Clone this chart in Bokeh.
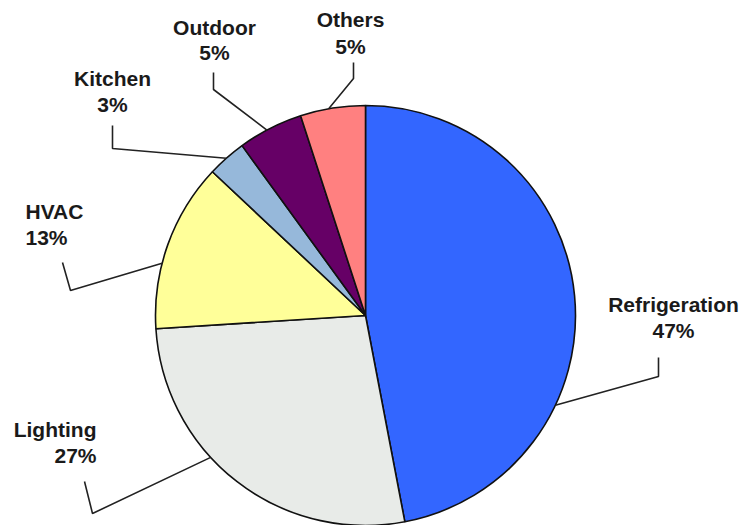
import math
from bokeh.plotting import figure
from bokeh.models import Range1d
from bokeh.embed import file_html
from bokeh.resources import INLINE
from bokeh.core.properties import value

# ---- data ----
categories = ["Refrigeration", "Lighting", "HVAC", "Kitchen", "Outdoor", "Others"]
shares = [47, 27, 13, 3, 5, 5]
colors = ["#3366FF", "#E8EBE8", "#FFFF99", "#96B8DA", "#660066", "#FF8080"]
pct_labels = ["47%", "27%", "13%", "3%", "5%", "5%"]

# ---- layout (pixel coordinates, y measured from top) ----
W, H = 740, 525
CX, CY, R = 365, 315, 210
# leader anchor angle (deg clockwise from top), elbow, end
leaders = {
    "Refrigeration": [(115.3,), (658, 376), (658, 357)],
    "Lighting": [(227.5,), (92, 513), (84, 481)],
    "HVAC": [(284.4,), (70, 290), (62, 262)],
    "Kitchen": [(318.5,), (112, 148), (112, 125)],
    "Outdoor": [(332.0,), (213, 89), (213, 72)],
    "Others": [(349.9,), (353, 78), (353, 62)],
}
# label position: x, center of first line, center of second line, align
label_pos = {
    "Refrigeration": (673, 304, 330, "center"),
    "Lighting": (96, 429, 455, "right"),
    "HVAC": (25, 211, 237, "left"),
    "Kitchen": (112, 78, 104, "center"),
    "Outdoor": (214, 27, 52, "center"),
    "Others": (350, 19, 46, "center"),
}

def Y(y):
    return H - y

p = figure(width=W, height=H, x_range=Range1d(0, W), y_range=Range1d(0, H),
           output_backend="svg", toolbar_location=None, min_border=0,
           outline_line_color=None)
p.axis.visible = False
p.grid.visible = False
p.background_fill_color = "white"

total = float(sum(shares))
cum = 0.0
starts, ends = [], []
for s in shares:
    a0 = math.pi / 2 - 2 * math.pi * (cum + s) / total
    a1 = math.pi / 2 - 2 * math.pi * cum / total
    starts.append(a0)
    ends.append(a1)
    cum += s

p.wedge(x=[CX] * len(shares), y=[Y(CY)] * len(shares), radius=R,
        start_angle=starts, end_angle=ends, fill_color=colors,
        line_color="#111111", line_width=1.6)

font = value("Liberation Sans")
for cat, pct in zip(categories, pct_labels):
    (ang,), elbow, end = leaders[cat]
    t = math.radians(ang)
    ax = CX + R * math.sin(t)
    ay = CY - R * math.cos(t)
    p.line(x=[ax, elbow[0], end[0]], y=[Y(ay), Y(elbow[1]), Y(end[1])],
           line_color="#222222", line_width=1.6)
    lx, b1, b2, al = label_pos[cat]
    p.text(x=[lx, lx], y=[Y(b1), Y(b2)], text=[cat, pct],
           text_font=font, text_font_style="bold", text_font_size="21px",
           text_align=al, text_baseline="middle", text_color="#1a1a1a")

open("out.html", "w").write(file_html(p, INLINE))
